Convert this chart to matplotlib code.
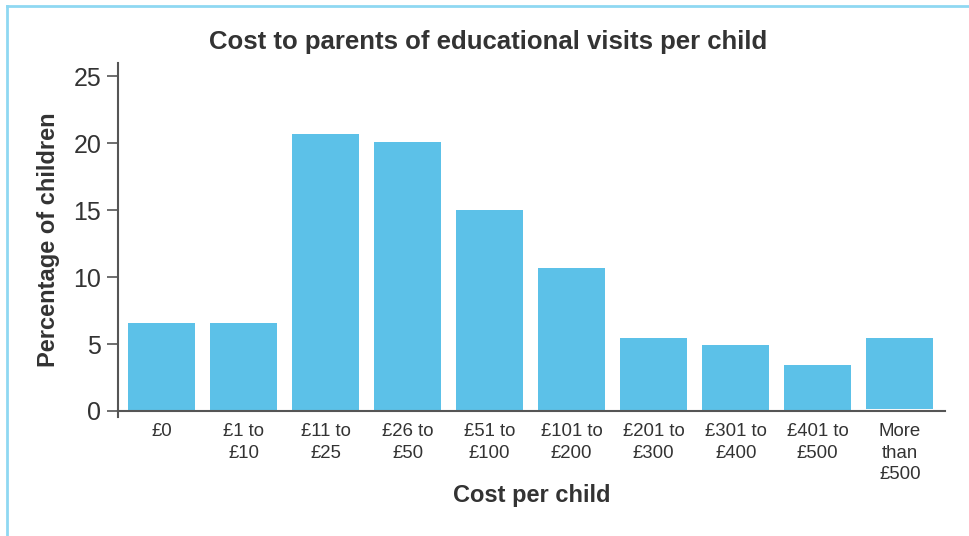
import matplotlib.pyplot as plt
from matplotlib.lines import Line2D

plt.rcParams['font.family'] = ['Liberation Sans', 'DejaVu Sans']

# Data
categories = ["£0", "£1 to\n£10", "£11 to\n£25", "£26 to\n£50", "£51 to\n£100",
              "£101 to\n£200", "£201 to\n£300", "£301 to\n£400", "£401 to\n£500",
              "More\nthan\n£500"]
percentages = [6.6, 6.6, 20.7, 20.1, 15.0, 10.7, 5.45, 4.9, 3.4, 5.45]
bottoms = [0, 0, 0, 0, 0, 0, 0, 0, 0, 0.12]

text_col = '#333333'
bar_col = '#5cc1e8'
spine_col = '#555555'

fig = plt.figure(figsize=(9.69, 5.36), dpi=100)
ax = fig.add_axes([0.1218, 0.222, 0.8534, 0.6605])

x = range(len(categories))
heights = [p - b for p, b in zip(percentages, bottoms)]
ax.bar(x, heights, bottom=bottoms, width=0.82, color=bar_col, zorder=2)

ax.set_xlim(-0.53, 9.55)
ax.set_ylim(-0.45, 26)
ax.set_yticks([0, 5, 10, 15, 20, 25])
ax.set_xticks(list(x))

ax.spines['top'].set_visible(False)
ax.spines['right'].set_visible(False)
ax.spines['bottom'].set_position(('data', 0))
for s in ['left', 'bottom']:
    ax.spines[s].set_color(spine_col)
    ax.spines[s].set_linewidth(1.5)

ax.tick_params(axis='y', length=8, width=1.2, color=spine_col, labelsize=18,
               labelcolor=text_col, pad=4)
ax.tick_params(axis='x', length=0, pad=9, labelsize=13.4, labelcolor=text_col)
ax.set_xticklabels(categories, linespacing=1.33)

ax.set_title("Cost to parents of educational visits per child", fontsize=18.5,
             fontweight='bold', color=text_col, pad=10, x=0.447)
ax.set_ylabel("Percentage of children", fontsize=17, fontweight='bold',
              color=text_col, labelpad=10)
ax.set_xlabel("Cost per child", fontsize=17, fontweight='bold',
              color=text_col, labelpad=1)

# light blue frame on top and left
fig.add_artist(Line2D([0.0068, 1.0], [0.9897, 0.9897], color='#8fd8f2', lw=2))
fig.add_artist(Line2D([0.0068, 0.0068], [0.0, 0.9897], color='#8fd8f2', lw=2))

plt.savefig('out.png', dpi=100)
